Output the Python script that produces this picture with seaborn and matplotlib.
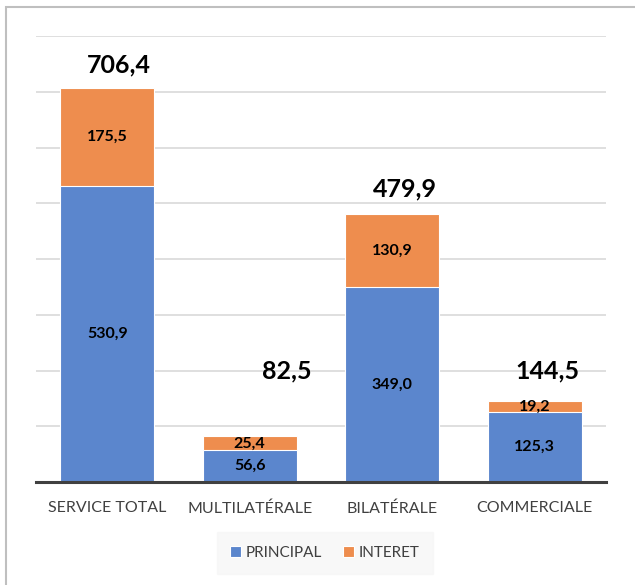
import numpy as np
import pandas as pd
import seaborn as sns
import matplotlib.pyplot as plt
from matplotlib.patches import Rectangle

categories = ["SERVICE TOTAL", "MULTILATÉRALE", "BILATÉRALE", "COMMERCIALE"]
principal = [530.9, 56.6, 349.0, 125.3]
interet = [175.5, 25.4, 130.9, 19.2]
totals = [706.4, 82.5, 479.9, 144.5]

BLUE = "#5B86CD"
ORANGE = "#EE8D4E"

sns.set_theme(style="white")
plt.rcParams["font.family"] = ["Lato", "DejaVu Sans"]

df = pd.DataFrame({"cat": categories, "principal": principal, "interet": interet})
df["stack"] = df["principal"] + df["interet"]

fig = plt.figure(figsize=(6.35, 5.85), dpi=100)
ax = fig.add_axes([36 / 635, 1 - 482 / 585, 570 / 635, 446 / 585])

sns.barplot(data=df, x="cat", y="stack", color=ORANGE, width=0.66, ax=ax,
            saturation=1, edgecolor="white", linewidth=0.8, label="INTERET")
sns.barplot(data=df, x="cat", y="principal", color=BLUE, width=0.66, ax=ax,
            saturation=1, edgecolor="white", linewidth=0.8, label="PRINCIPAL")

ax.set_ylim(0, 800)
ax.set_xlim(-0.5, 3.5)
ax.set_yticks(np.arange(100, 801, 100))
ax.yaxis.grid(True, color="#D9D9D9", linewidth=1.2)
ax.set_axisbelow(True)
ax.tick_params(axis="y", left=False, labelleft=False)
ax.tick_params(axis="x", bottom=False, pad=8, labelsize=11.5, labelcolor="#404040")
ax.set_xlabel("")
ax.set_ylabel("")
for s in ["top", "left", "right"]:
    ax.spines[s].set_visible(False)
ax.spines["bottom"].set_color("#404040")
ax.spines["bottom"].set_linewidth(2.2)

def fmt(v):
    return f"{v:.1f}".replace(".", ",")

for i, (p, it) in enumerate(zip(principal, interet)):
    ax.text(i, p / 2, fmt(p), ha="center", va="center", fontsize=11.5, fontweight="bold", color="black")
    ax.text(i, p + it / 2, fmt(it), ha="center", va="center", fontsize=11.5, fontweight="bold", color="black")

# total labels, placed by hand as in the original
total_x = [0.08, 0.26, 0.09, 0.09]
total_y = [749, 200, 525, 200]
for i, t in enumerate(totals):
    ax.text(i + total_x[i], total_y[i], fmt(t), ha="center", va="center",
            fontsize=18, fontweight="bold", color="black")

handles, labels = ax.get_legend_handles_labels()
if ax.get_legend() is not None:
    ax.get_legend().remove()
order = [labels.index("PRINCIPAL"), labels.index("INTERET")]
leg = fig.legend([handles[k] for k in order], [labels[k] for k in order],
                 loc="center", bbox_to_anchor=(325 / 635, 1 - 553 / 585), ncol=2,
                 frameon=True, fontsize=11, handlelength=0.7, handleheight=0.7,
                 handletextpad=0.3, columnspacing=1.4, borderpad=0.9, fancybox=False)
leg.get_frame().set_facecolor("#F7F7F7")
leg.get_frame().set_edgecolor("#F7F7F7")
for txt in leg.get_texts():
    txt.set_color("#404040")

# outer chart frame
fig.patches.append(Rectangle((6 / 635, -0.1), 1.2, 1 - 7 / 585 + 0.1, transform=fig.transFigure,
                             fill=False, edgecolor="#BFBFBF", linewidth=1.5))

fig.savefig("out.png", dpi=100)
